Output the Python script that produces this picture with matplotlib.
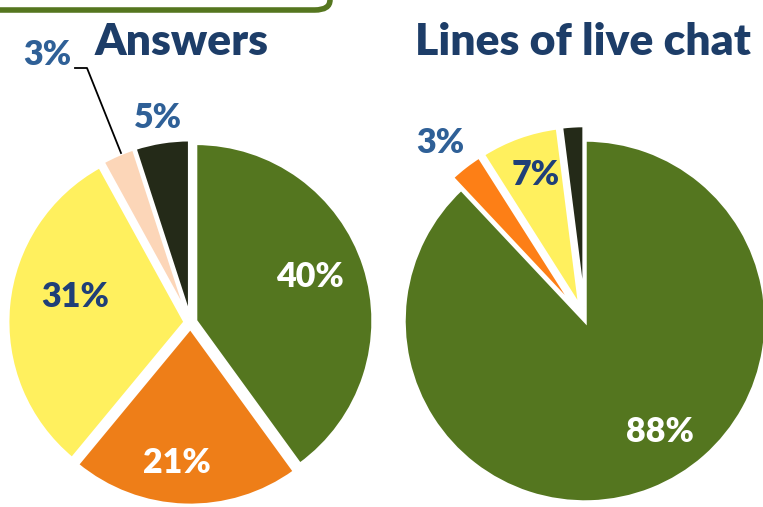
"""Two pie charts: share of answers and share of live chat lines by channel."""

from __future__ import annotations

import matplotlib

matplotlib.use("Agg")

import matplotlib.pyplot as plt
from matplotlib.patches import FancyBboxPatch

W, H = 763, 507
DPI = 100

answers_labels = ["A", "B", "C", "D", "E"]
answers_values = [40, 21, 31, 3, 5]
answers_colors = ["#54761f", "#ee7e18", "#fff05e", "#fcd6b8", "#242a18"]

chat_labels = ["A", "B", "C", "E"]
chat_values = [88, 3, 7, 2]
chat_colors = ["#54761f", "#fd7f16", "#fff05e", "#242a18"]

TITLE_BLUE = "#1d3d68"
DARK_BLUE = "#1f3f78"
LIGHT_BLUE = "#2f6097"
FONT = "Lato"
WEIGHT = "heavy"


def px_axes(fig, cx, cy, r, pad=1.25):
    """Square axes centred on (cx, cy) in pixels, unit radius = r pixels."""
    side = 2 * r * pad
    ax = fig.add_axes([(cx - side / 2) / W, 1 - (cy + side / 2) / H, side / W, side / H])
    ax.set_xlim(-pad, pad)
    ax.set_ylim(-pad, pad)
    ax.set_aspect("equal")
    ax.axis("off")
    return ax


def fig_text(fig, x, y, s, color, size, **kw):
    fig.text(x / W, 1 - y / H, s, color=color, fontsize=size, fontweight=WEIGHT,
             family=FONT, ha="center", va="center", **kw)


def draw_pie(ax, values, colors, explode):
    wedges, _ = ax.pie(
        values,
        colors=colors,
        explode=explode,
        startangle=90,
        counterclock=False,
        radius=1.0,
        wedgeprops=dict(edgecolor="white", linewidth=2.5),
    )
    for w in wedges:
        w.set_clip_on(False)
    return wedges


fig = plt.figure(figsize=(W / DPI, H / DPI), dpi=DPI)

# Green rounded frame cut off at the top-left
frame = FancyBboxPatch((-20 / W, 1 - 10 / H), 350 / W, 60 / H,
                       boxstyle="round,pad=0,rounding_size=0.02",
                       transform=fig.transFigure, facecolor="none",
                       edgecolor="#55761f", linewidth=4, clip_on=False)
fig.patches.append(frame)

# Left pie: answers
ax1 = px_axes(fig, 190.5, 322.5, 177.5)
draw_pie(ax1, answers_values, answers_colors, [0.03] * len(answers_values))

# Right pie: lines of live chat
ax2 = px_axes(fig, 585, 321, 181)
draw_pie(ax2, chat_values, chat_colors, [0.0, 0.08, 0.08, 0.08])

fig_text(fig, 182, 42, "Answers", TITLE_BLUE, 32)
fig_text(fig, 583, 42, "Lines of live chat", TITLE_BLUE, 32)

pct = [f"{v}%" for v in answers_values]
fig_text(fig, 310, 277, pct[0], "white", 24.5)
fig_text(fig, 177, 463, pct[1], "white", 24.5)
fig_text(fig, 75, 297, pct[2], DARK_BLUE, 24.5)
fig_text(fig, 47, 55, pct[3], LIGHT_BLUE, 24.5)
fig_text(fig, 158, 118, pct[4], LIGHT_BLUE, 24.5)

# leader line for the small slice
fig.add_artist(plt.Line2D([75 / W, 87 / W, 121 / W],
                          [1 - 68 / H, 1 - 68 / H, 1 - 153 / H],
                          color="black", linewidth=1.3))

pct = [f"{v}%" for v in chat_values]
fig_text(fig, 660, 432, pct[0], "white", 24.5)
fig_text(fig, 440, 143, pct[1], LIGHT_BLUE, 24.5)
fig_text(fig, 536, 175, pct[2], DARK_BLUE, 24.5)

fig.savefig("out.png", dpi=DPI)
